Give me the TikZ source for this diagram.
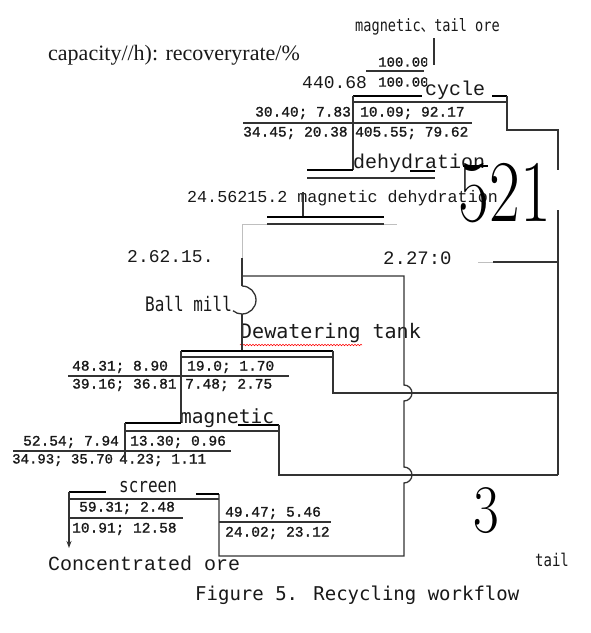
\documentclass[tikz,border=0pt]{standalone}
\usepackage{fontspec}
\usepackage{graphicx}
\usetikzlibrary{decorations.pathmorphing,arrows.meta}
\newfontfamily\mserif{Liberation Mono}
\newfontfamily\mserifb[FakeBold=1.2]{Liberation Mono}
\newfontfamily\msans{DejaVu Sans Mono}
\newfontfamily\tserif{Liberation Serif}
\newfontfamily\cjkf{Noto Sans CJK SC}
\newcommand{\tallbox}[1]{\scalebox{1}[1.25]{#1}}
\tikzset{
  ln/.style={line width=1.3pt, draw=black!80},
  gln/.style={line width=1pt, draw=black!25},
  tk/.style={line width=2.6pt, draw=black},
  lbl/.style={inner sep=0pt, anchor=west, text=black!90},
  num/.style={lbl, font=\mserifb\fontsize{14.5}{14.5}\selectfont},
  snum/.style={lbl, font=\mserifb\fontsize{14}{14}\selectfont},
  proc/.style={lbl, font=\mserif\fontsize{20}{20}\selectfont},
  mid/.style={lbl, font=\mserif\fontsize{18}{18}\selectfont},
  sans/.style={lbl, font=\msans\fontsize{16}{16}\selectfont},
  big/.style={inner sep=0pt, anchor=center, text=black}
}
\begin{document}
\begin{tikzpicture}[x=1pt,y=-1pt]
\useasboundingbox[fill=white] (0,0) rectangle (591,633);

% ---------- labels ----------
\node[lbl, font=\tserif\fontsize{22}{22}\selectfont] (cap) at (48,55) {capacity//h): recoveryrate/\%};
\node[lbl, font=\msans\fontsize{13.6}{13.6}\selectfont] (feed) at (355,27) {\tallbox{magnetic{\cjkf 、}tail ore}};
\begin{scope}
  \clip (370,45) rectangle (427,95);
  \node[snum] (f1) at (378,62) {100.00};
  \node[snum] (f2) at (378,82) {100.00};
\end{scope}
\node[mid] (n440) at (302,83) {440.68};
\node[proc] (cyc) at (425,90) {cycle};
\node[num] (a1) at (255,113) {30.40; 7.83};
\node[num] (a2) at (360,113) {10.09; 92.17};
\node[num] (a3) at (243,133) {34.45; 20.38};
\node[num] (a4) at (355,133) {405.55; 79.62};
\node[proc] (deh) at (353,163) {dehydration};
\node[lbl, font=\mserif\fontsize{16.7}{16.7}\selectfont] (mdeh) at (187,198) {24.56215.2 magnetic dehydration};
\node[big, font=\fontsize{88}{88}\selectfont] (n521) at (505,193) {\scalebox{0.76}[1]{521}};
\node[mid] (l262) at (127,257) {2.62.15.};
\node[lbl, font=\mserif\fontsize{19}{19}\selectfont] (l227) at (383,258) {2.27:0};
\node[sans] (ball) at (145,304) {\tallbox{Ball mill}};
\node[lbl, font=\msans\fontsize{20}{20}\selectfont] (dew) at (240,333) {Dewatering tank};
\node[num] (b1) at (72,367) {48.31; 8.90};
\node[num] (b2) at (187,367) {19.0; 1.70};
\node[num] (b3) at (72,385) {39.16; 36.81};
\node[num] (b4) at (185,385) {7.48; 2.75};
\node[lbl, font=\msans\fontsize{19.5}{19.5}\selectfont] (mag) at (180,418) {magnetic};
\node[num] (c1) at (23,442) {52.54; 7.94};
\node[num] (c2) at (130,442) {13.30; 0.96};
\node[lbl, font=\mserifb\fontsize{14}{14}\selectfont] (c3) at (12,460) {34.93; 35.70};
\node[num] (c4) at (119,460) {4.23; 1.11};
\node[sans] (scr) at (119,487) {\tallbox{screen}};
\node[num] (d1) at (79,508) {59.31; 2.48};
\node[num] (d2) at (72,529) {10.91; 12.58};
\node[num] (e1) at (225,513) {49.47; 5.46};
\node[num] (e2) at (225,533) {24.02; 23.12};
\node[big, font=\fontsize{68}{68}\selectfont] (n3) at (486,511) {\scalebox{0.82}[1]{3}};
\node[proc] (conc) at (48,563) {Concentrated ore};
\node[lbl, font=\msans\fontsize{14}{14}\selectfont] (tail) at (535,560) {\tallbox{tail}};
\node[lbl, font=\msans\fontsize{19}{19}\selectfont] (cap2) at (195,595) {Figure 5. Recycling workflow};

\draw[red, line width=0.5pt, decorate, decoration={snake, amplitude=0.8pt, segment length=3pt}] (240,345) -- (362,345);

% ---------- coordinates ----------
\coordinate (feedT) at (434,38);
\coordinate (feedB) at (434,65);
\coordinate (cL) at (353,96);
\coordinate (cR) at (507,96);
\coordinate (cRd) at (507,130);
\coordinate (rTop) at (558,130);
\coordinate (rGapA) at (558,170);
\coordinate (rGapB) at (558,210);
\coordinate (rBot) at (558,475);
\coordinate (dL) at (307,170);
\coordinate (dJ) at (353,170);
\coordinate (mdL) at (267,217);
\coordinate (mdR) at (384,217);
\coordinate (bmT) at (242,286);
\coordinate (bmB) at (242,314);
\coordinate (vJ) at (242,276);
\coordinate (vR) at (404,276);
\coordinate (wL) at (181,351);
\coordinate (wR) at (333,351);
\coordinate (wRd) at (333,393);
\coordinate (mL) at (125,423);
\coordinate (mR) at (279,425);
\coordinate (mRd) at (279,475);
\coordinate (sL) at (69,492);
\coordinate (sR) at (219,494);
\coordinate (sRd) at (219,556);
\coordinate (vB) at (404,556);
\coordinate (concEnd) at (69,548);

% ---------- top ----------
\draw[ln] (feedT) -- (feedB);
\draw[ln] (366,71) -- (424,71);
\draw[tk] (cL) -- (422,96);
\draw[tk] (492,96) -- (cR);
\draw[ln] (353,102) -- (507,102);
\draw[ln] (cR) -- (cRd) -- (rTop) -- (rGapA);
\draw[ln] (rGapB) -- (rBot);
\draw[ln] (243,123) -- (472,123);
\draw[ln] (cL) -- (dJ);

% dehydration
\draw[tk] (dL) -- (dJ);
\draw[tk] (410,171) -- (435,171);
\draw[tk] (463,166) -- (488,166);
\draw[ln] (307,178) -- (435,178);
\draw[ln] (303,192) -- (303,217);

% magnetic dehydration
\draw[tk] (mdL) -- (mdR);
\draw[ln] (267,224) -- (384,224);
\draw[gln] (242,224) -- (267,224);
\draw[gln] (384,224) -- (397,224);
\draw[gln] (242,224) -- (242,258);
\draw[ln] (242,258) -- (bmT);
\draw[ln] (bmT) arc[start angle=-90, end angle=130, radius=14];
\draw[ln] (bmB) -- (242,351);

% right side horizontal
\draw[gln] (478,262) -- (493,262);
\draw[ln] (493,262) -- (558,262);

% middle return line with bridges
\draw[ln] (vJ) -- (vR) -- (404,385) arc[start angle=-90, end angle=90, radius=8]
      -- (404,467) arc[start angle=-90, end angle=90, radius=8] -- (vB) -- (sRd) -- (sR);

% dewatering tank
\draw[tk] (wL) -- (wR);
\draw[ln] (181,357) -- (333,357);
\draw[ln] (wR) -- (wRd) -- (558,393);
\draw[ln] (68,376) -- (289,376);
\draw[ln] (wL) -- (181,423);

% magnetic
\draw[tk] (mL) -- (181,423);
\draw[tk] (238,425) -- (mR);
\draw[ln] (125,431) -- (279,431);
\draw[ln] (mR) -- (mRd) -- (rBot);
\draw[ln] (13,451) -- (231,451);
\draw[ln] (mL) -- (125,462);

% screen
\draw[tk] (sL) -- (106,492);
\draw[tk] (196,494) -- (sR);
\draw[ln] (69,499) -- (219,499);
\draw[ln, -{Stealth[length=7pt,width=5pt]}] (sL) -- (concEnd);
\draw[ln] (70,518) -- (183,518);
\draw[ln] (219,522) -- (331,522);
\end{tikzpicture}
\end{document}
